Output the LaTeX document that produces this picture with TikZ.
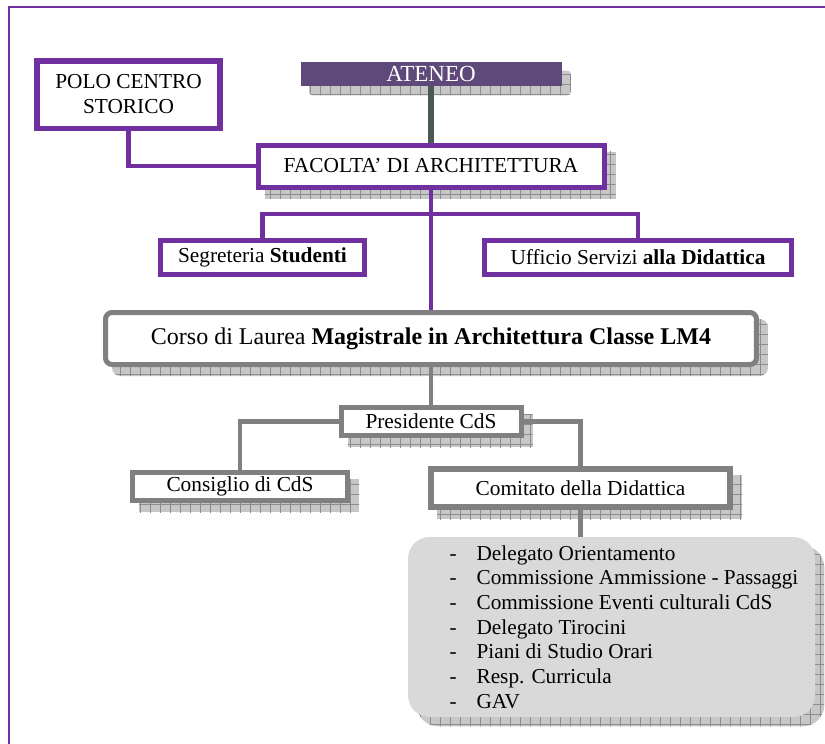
\documentclass[tikz,border=0pt]{standalone}
\usepackage{fontspec}
\setmainfont{Liberation Serif}
\usetikzlibrary{backgrounds,patterns.meta}
\definecolor{viola}{HTML}{7030A0}
\definecolor{violascuro}{HTML}{5F497A}
\definecolor{ardesia}{HTML}{4B5858}
\definecolor{grigio}{HTML}{808080}
\definecolor{grigiochiaro}{HTML}{D9D9D9}
\newcommand{\voce}[1]{\hspace*{15pt}\makebox[16.2pt][l]{-}#1}

\begin{document}
\begin{tikzpicture}[x=0.6pt,y=-0.6pt,
    every node/.style={inner sep=0pt,font=\fontsize{12.8}{15}\selectfont},
    ufficio/.style={draw=viola,line width=3pt,fill=white},
    organo/.style={draw=grigio,line width=3pt,fill=white},
    ombra/.style={fill=black!22,postaction={pattern={Hatch[distance=6pt,angle=0,line width=0.3pt]},pattern color=black!45}},
    viola link/.style={draw=viola,line width=2.8pt},
    grigio link/.style={draw=grigio,line width=2.8pt}]
    \useasboundingbox (0,0) rectangle (825,744);
    %% cornice
    \draw[viola,line width=1.2pt] (9,744) -- (9,7) -- (825,7);
    %% ateneo e facolta'
    \node[fill=violascuro,text=white,minimum width=156.6pt,minimum height=14.4pt,font=\fontsize{13.8}{16}\selectfont] (ateneo) at (431,74) {ATENEO};
    \node[ufficio,line width=3.3pt,minimum width=110.1pt,minimum height=40.5pt,align=center] (polo) at (128.5,94.5) {POLO CENTRO\\STORICO};
    \node[ufficio,minimum width=207.6pt,minimum height=25.2pt] (fac) at (431,166) {FACOLTA' DI ARCHITETTURA};
    %% uffici
    \node[ufficio,minimum width=122.4pt,minimum height=20.4pt] (seg) at (262.5,257.5) {Segreteria \textbf{Studenti}};
    \node[ufficio,minimum width=184.2pt,minimum height=20.4pt] (uff) at (638,257.5) {Ufficio Servizi \textbf{alla Didattica}};
    %% corso di laurea
    \node[organo,rounded corners=4pt,minimum width=390.6pt,minimum height=31.2pt,font=\fontsize{14.4}{17}\selectfont] (corso) at (431,338.5) {Corso di Laurea \textbf{Magistrale in Architettura Classe LM4}};
    \node[organo,minimum width=108pt,minimum height=16.8pt] (pres) at (431,421.5) {Presidente CdS};
    \node[organo,minimum width=129pt,minimum height=16.8pt] (cons) at (240,486.5) {Consiglio di CdS};
    \node[organo,line width=3.6pt,minimum width=179.4pt,minimum height=22.8pt] (com) at (580.5,488) {Comitato della Didattica};
    \node[fill=grigiochiaro,rounded corners=13pt,minimum width=244.2pt,minimum height=108pt,align=left,font=\fontsize{12.75}{14.8}\selectfont] (elenco) at (611.5,627)
        {\voce{Delegato Orientamento}\\
         \voce{Commissione Ammissione - Passaggi}\\
         \voce{Commissione Eventi culturali CdS}\\
         \voce{Delegato Tirocini}\\
         \voce{Piani di Studio Orari}\\
         \voce{Resp. Curricula}\\
         \voce{GAV}};
    \begin{pgfonlayer}{background}
        %% ombre
        \foreach \n/\r in {ateneo/2pt,fac/0pt,corso/5pt,pres/0pt,cons/0pt,com/0pt,elenco/13pt}
            \fill[ombra,rounded corners=\r] ([shift={(9,9)}]\n.south west) rectangle ([shift={(9,9)}]\n.north east);
        %% collegamenti
        \draw[ardesia,line width=3.6pt] (ateneo.south) -- (ateneo.south |- fac.north);
        \draw[viola link] (polo.south) |- (fac.west);
        \draw[viola link] (fac.south) -- (fac.south |- corso.north);
        \coordinate (bivio) at (431,214);
        \draw[viola link] (seg.north) |- (bivio) -| (uff.north);
        \draw[grigio link] (corso.south) -- (corso.south |- pres.north);
        \draw[grigio link] (pres.west) -| (cons.north);
        \draw[grigio link] (pres.east) -| (com.north);
        \draw[grigio link] (com.south) -- (com.south |- elenco.north);
    \end{pgfonlayer}
\end{tikzpicture}
\end{document}
